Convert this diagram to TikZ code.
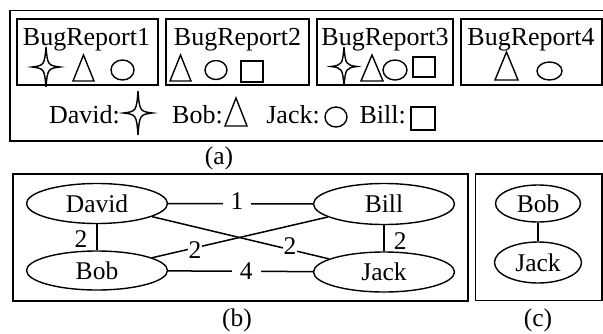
\documentclass[tikz,border=0pt]{standalone}
\usepackage{fontspec}
\setmainfont{Liberation Serif}
\usetikzlibrary{shapes.geometric}
\newcommand\mysparkle[4]{% x y halfwidth halfheight
  \draw[sym] (#1,#2-#4) .. controls (#1+1.5,#2-2) and (#1+2,#2-1.5) .. (#1+#3,#2)
    .. controls (#1+2,#2+1.5) and (#1+1.5,#2+2) .. (#1,#2+#4)
    .. controls (#1-1.5,#2+2) and (#1-2,#2+1.5) .. (#1-#3,#2)
    .. controls (#1-2,#2-1.5) and (#1-1.5,#2-2) .. cycle;}
\newcommand\mytri[4]{% left right top bottom
  \draw[sym] (#1,#4) -- ({(#1+#2)/2},#3) -- (#2,#4) -- cycle;}
\begin{document}
\begin{tikzpicture}[x=1pt,y=-1pt,
  box/.style={draw,line width=1.6pt},
  sym/.style={draw,line width=1.4pt},
  bigtxt/.style={font=\fontsize{26}{30}\selectfont,inner sep=0pt},
  txt/.style={font=\fontsize{25.5}{29}\selectfont},
  person/.style={draw,ellipse,line width=1.4pt,inner sep=0pt,font=\fontsize{25.5}{29}\selectfont},
  edge/.style={draw,line width=1.5pt},
  lbl/.style={fill=white,inner ysep=1pt,inner xsep=8pt,font=\fontsize{25.5}{29}\selectfont}]
\useasboundingbox (0,0) rectangle (603,333);
% ---------- (a)
\draw[box] (610,10.5) -- (10,10.5) -- (10,141) -- (610,141);
\draw[box] (17,19) rectangle (158,85);
\draw[box] (166,19) rectangle (309,85);
\draw[box] (317,19) rectangle (453,85);
\draw[box] (461,19) rectangle (602,85);
\node[bigtxt,anchor=base] (br1) at (86.5,45) {BugReport1};
\node[bigtxt,anchor=base] (br2) at (237.5,45) {BugReport2};
\node[bigtxt,anchor=base] (br3) at (385,45) {BugReport3};
\node[bigtxt,anchor=base] (br4) at (531,45) {BugReport4};
% BR1
\mysparkle{46}{67}{14}{20}
\mytri{73}{94}{55}{81}
\draw[sym] (122.5,70) ellipse (11.5 and 10);
% BR2
\mytri{170}{191}{55}{81}
\draw[sym] (216,70) ellipse (11 and 9.5);
\draw[sym] (241,61) rectangle (263,82);
% BR3
\mysparkle{344}{66.5}{13}{19.5}
\mytri{361}{383}{55}{81}
\draw[sym] (395,70) ellipse (12 and 10);
\draw[sym] (413,57) rectangle (435,77);
% BR4
\mytri{495}{518}{52}{80}
\draw[sym] (549.5,71) ellipse (12.5 and 9);
% legend
\node[bigtxt,anchor=base east] (ldavid) at (120,123) {David:};
\mysparkle{138}{113}{14.5}{22}
\node[bigtxt,anchor=base east] (lbob) at (223,123) {Bob:};
\mytri{225}{247}{98}{126}
\node[bigtxt,anchor=base east] (ljack) at (320,123) {Jack:};
\draw[sym] (336,117) ellipse (11 and 10);
\node[bigtxt,anchor=base east] (lbill) at (406,123) {Bill:};
\draw[sym] (411,107) rectangle (435,130);
\node[txt,inner sep=0pt] (capa) at (219,158) {(a)};
% ---------- (b)
\draw[box] (13,174) rectangle (468,301);
\node[person,minimum width=141pt,minimum height=40pt] (David) at (97,203.5) {David};
\node[person,minimum width=141pt,minimum height=41pt] (Bill) at (384,204) {Bill};
\node[person,minimum width=141pt,minimum height=39pt] (Bob) at (97,270.5) {Bob};
\node[person,minimum width=141pt,minimum height=40pt] (Jack) at (384,272) {Jack};
\draw[edge] (David) -- node[lbl,pos=0.476,yshift=3pt] {1} (Bill);
\draw[edge] (David) -- node[txt,left,inner xsep=9pt,yshift=-2pt] {2} (Bob);
\draw[edge] (Bill) -- node[txt,right,inner xsep=9pt,yshift=-3pt] {2} (Jack);
\draw[edge] (Bob) -- node[lbl,pos=0.244,inner xsep=1pt,inner ysep=0pt,yshift=-2pt] {2} (Bill);
\draw[edge] (David) -- node[lbl,pos=0.78,inner xsep=1pt,inner ysep=0pt,yshift=4pt] {2} (Jack);
\draw[edge] (Bob) -- node[lbl,pos=0.54] {4} (Jack);
\node[txt,inner sep=0pt] (capb) at (237,320) {(b)};
% ---------- (c)
\draw[box] (475.5,174) rectangle (602,300.5);
\node[person,minimum width=85pt,minimum height=37pt] (Bob2) at (538,203.5) {Bob};
\node[person,minimum width=87pt,minimum height=41pt] (Jack2) at (538,262.5) {Jack};
\draw[edge] (Bob2) -- (Jack2);
\node[txt,inner sep=0pt] (capc) at (538,320) {(c)};
\end{tikzpicture}
\end{document}
